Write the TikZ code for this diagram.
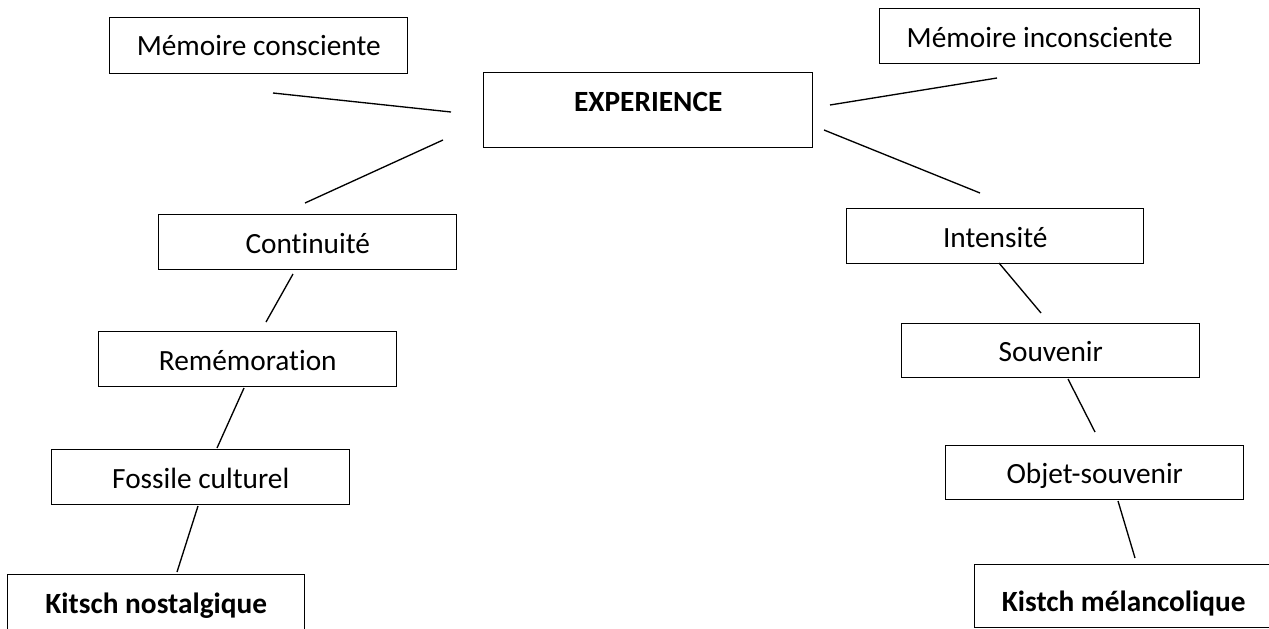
\documentclass[tikz,border=0pt]{standalone}
\usepackage{fontspec}
\setmainfont{Carlito}[Ligatures=NoCommon]
\begin{document}
\begin{tikzpicture}[x=0.75pt,y=-0.75pt,
  box/.style={draw=black,line width=1.1pt,inner sep=0pt,anchor=north west,
    font=\fontsize{22pt}{26pt}\selectfont,minimum width=223.5pt,
    text height=29.25pt,text depth=12pt},
  boldbox/.style={box,font=\fontsize{22pt}{26pt}\selectfont\bfseries},
  link/.style={draw=black,line width=1pt}]
\useasboundingbox (0,0) rectangle (1269,628);
\fill[white] (0,0) rectangle (1269,628);
% boxes
\node[box,text height=28.5pt,text depth=13.5pt] (mc) at (109,17) {Mémoire consciente};
\node[boldbox,minimum width=246.75pt,text depth=27pt] (exp) at (483,72) {EXPERIENCE};
\node[box,minimum width=240pt] (mi) at (879,8) {Mémoire inconsciente};
\node[box] (cont) at (158,214) {Continuité};
\node[box] (rem) at (98,331) {Remémoration};
\node[box] (fos) at (51,449) {Fossile culturel};
\node[boldbox,minimum width=222.75pt,text depth=15.75pt] (kn) at (7,574) {Kitsch nostalgique};
\node[box,minimum width=222.75pt] (int) at (846,208) {Intensité};
\node[box,text height=28.5pt,text depth=12pt] (sou) at (901,323) {Souvenir};
\node[box,text height=28.5pt,text depth=12pt] (obj) at (945,445) {Objet-souvenir};
\node[boldbox,text height=35.25pt,text depth=12pt] (km) at (974,564) {Kistch mélancolique};
% connector ends
\coordinate (a1) at (273,93);   \coordinate (b1) at (451,112);
\coordinate (a2) at (443,140);  \coordinate (b2) at (305,203);
\coordinate (a3) at (830,105);  \coordinate (b3) at (997,78);
\coordinate (a4) at (824,130);  \coordinate (b4) at (980,193);
\coordinate (a5) at (293,274);  \coordinate (b5) at (266,322);
\coordinate (a6) at (244,388);  \coordinate (b6) at (217,448);
\coordinate (a7) at (198,506);  \coordinate (b7) at (177,572);
\coordinate (a8) at (999,263);  \coordinate (b8) at (1041,313);
\coordinate (a9) at (1068,379); \coordinate (b9) at (1095,432);
\coordinate (a10) at (1118,501); \coordinate (b10) at (1135,558);
\foreach \i in {1,...,10} {\draw[link] (a\i) -- (b\i);}
\end{tikzpicture}
\end{document}
